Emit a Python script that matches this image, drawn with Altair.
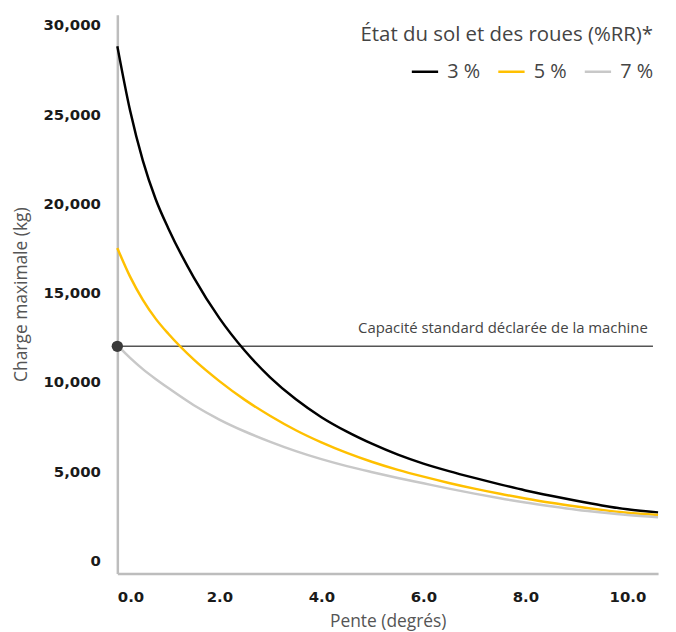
import altair as alt
import pandas as pd

# Pente (degrés)
pente = [0, 0.25, 0.5, 0.75, 1.0, 1.5, 2.0, 2.5, 3.0, 3.5, 4.0, 4.5, 5.0, 5.5,
         6.0, 6.5, 7.0, 7.5, 8.0, 8.5, 9.0, 9.5, 10.0, 10.6]

# Charge maximale (kg) for each RR condition
rr3 = [28800, 25200, 22400, 20250, 18600, 15850, 13580, 11750, 10250, 9030,
       8030, 7220, 6530, 5930, 5430, 5010, 4630, 4270, 3930, 3630, 3350, 3090,
       2870, 2700]
rr5 = [17500, 15900, 14600, 13550, 12700, 11250, 10050, 9000, 8100, 7300,
       6620, 6030, 5520, 5080, 4700, 4350, 4030, 3740, 3480, 3240, 3030, 2840,
       2680, 2555]
rr7 = [12050, 11350, 10720, 10170, 9660, 8700, 7900, 7230, 6650, 6130,
       5680, 5290, 4950, 4630, 4330, 4030, 3750, 3490, 3250, 3040, 2850, 2690,
       2550, 2430]

series_names = ["3 %", "5 %", "7 %"]
series_colors = ["#000000", "#FFC000", "#C8C8C8"]

capacite = 12000
capacite_label = "Capacité standard déclarée de la machine"

x_ticks = [0, 2, 4, 6, 8, 10]
y_ticks = [0, 5000, 10000, 15000, 20000, 25000, 30000]

rows = []
for name, vals in zip(series_names, [rr3, rr5, rr7]):
    for p, v in zip(pente, vals):
        rows.append({"pente": p, "charge": v, "rr": name})
df = pd.DataFrame(rows)

ref_df = pd.DataFrame({"x0": [0.0], "x1": [10.5], "y": [capacite],
                       "label": [capacite_label], "xl": [10.4]})

xscale = alt.Scale(domain=[0, 10.6], nice=False, zero=False)
yscale = alt.Scale(domain=[-720, 30560], nice=False, zero=False)

lines = alt.Chart(df).mark_line(strokeWidth=2.5, interpolate="monotone").encode(
    x=alt.X("pente:Q", scale=xscale,
            axis=alt.Axis(title="Pente (degrés)", values=x_ticks, format=".1f")),
    y=alt.Y("charge:Q", scale=yscale,
            axis=alt.Axis(title="Charge maximale (kg)", values=y_ticks, format=",d")),
    color=alt.Color("rr:N",
                    scale=alt.Scale(domain=series_names, range=series_colors),
                    legend=alt.Legend(title="État du sol et des roues (%RR)*")),
)

rule = alt.Chart(ref_df).mark_rule(color="#555555", strokeWidth=1.5).encode(
    x="x0:Q", x2="x1:Q", y="y:Q"
)

dot = alt.Chart(ref_df).mark_circle(color="#3a3a3a", size=130, opacity=1).encode(
    x="x0:Q", y="y:Q"
)

txt = alt.Chart(ref_df).mark_text(
    align="right", baseline="bottom", dy=-10, fontSize=15, font="Open Sans",
    color="#444444"
).encode(x="xl:Q", y="y:Q", text="label:N")

chart = alt.layer(rule, lines, dot, txt).properties(
    width=544, height=562,
    padding={"left": 5, "top": 5, "right": 5, "bottom": 0},
).configure_view(stroke=None).configure_axis(
    grid=False,
    ticks=False,
    domainColor="#bdbdbd",
    domainWidth=2.5,
    labelFont="DejaVu Sans",
    labelFontWeight="bold",
    labelFontSize=15,
    labelColor="#1a1a1a",
    titleFont="Open Sans",
    titleFontWeight="normal",
    titleFontSize=17.5,
    titleColor="#555555",
).configure_axisY(
    labelPadding=17,
    titlePadding=12,
).configure_axisX(
    labelPadding=16,
    titlePadding=8,
).configure_legend(
    orient="none",
    legendX=244,
    legendY=10,
    direction="horizontal",
    titleAnchor="end",
    symbolType="stroke",
    symbolStrokeWidth=2.5,
    symbolSize=700,
    labelFont="Open Sans",
    labelFontSize=20,
    labelColor="#444444",
    titleFont="Open Sans",
    titleFontSize=20.5,
    titleFontWeight="normal",
    titleColor="#444444",
    titleLimit=500,
    titlePadding=12,
    columnPadding=12,
    labelOffset=8,
    padding=0,
)

chart.save("out.html", embed_options={"renderer": "svg", "actions": False})
